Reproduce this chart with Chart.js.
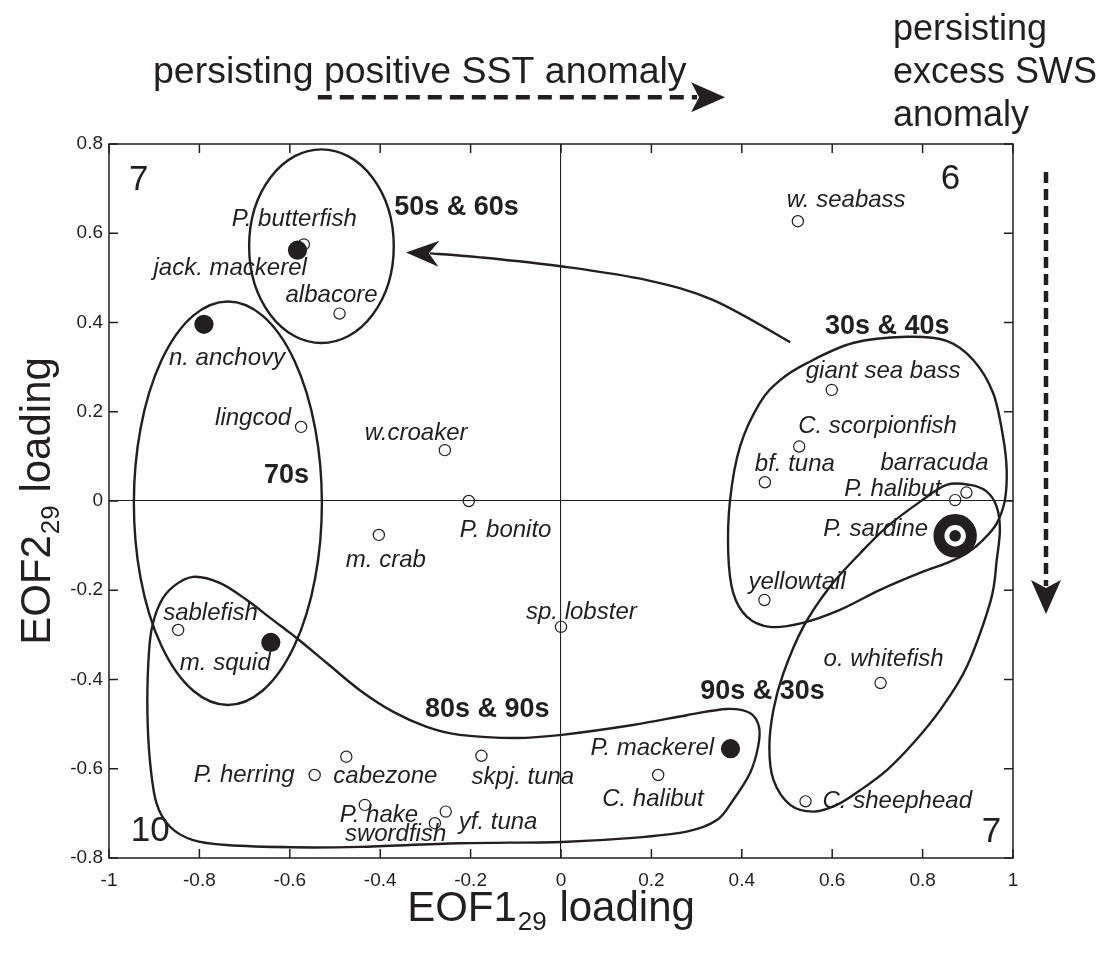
<!DOCTYPE html>
<html>
<head>
<meta charset="utf-8">
<script src="https://cdn.jsdelivr.net/npm/chart.js@4.4.1/dist/chart.umd.min.js"></script>
<style>
  html, body { margin: 0; background: #fff; }
  canvas { display: block; }
</style>
</head>
<body>
<canvas id="chart" width="1104" height="958"></canvas>
<script>
/* EOF1/EOF2 loadings of fish catch series, with decade groupings */

const INK = "#231f20";
const FONT = "'Liberation Sans', Arial, Helvetica, sans-serif";

// ---------- data ----------
const SPECIES = [
  "w. seabass", "giant sea bass", "C. scorpionfish", "bf. tuna", "P. halibut",
  "barracuda", "P. sardine", "yellowtail", "sp. lobster", "o. whitefish",
  "P. mackerel", "C. halibut", "C. sheephead", "P. butterfish", "jack. mackerel",
  "albacore", "n. anchovy", "lingcod", "w.croaker", "P. bonito",
  "m. crab", "sablefish", "m. squid", "cabezone", "P. herring",
  "skpj. tuna", "P. hake", "yf. tuna", "swordfish",
];
const EOF1 = [
  0.524, 0.599, 0.527, 0.451, 0.872,
  0.897, 0.872, 0.450, 0.000, 0.707,
  0.375, 0.215, 0.541, -0.569, -0.583,
  -0.490, -0.790, -0.575, -0.257, -0.204,
  -0.403, -0.847, -0.642, -0.475, -0.545,
  -0.176, -0.434, -0.255, -0.279,
];
const EOF2 = [
  0.627, 0.249, 0.122, 0.042, 0.002,
  0.019, -0.078, -0.222, -0.282, -0.408,
  -0.555, -0.614, -0.673, 0.575, 0.562,
  0.420, 0.396, 0.166, 0.114, 0.000,
  -0.076, -0.289, -0.317, -0.573, -0.614,
  -0.571, -0.681, -0.696, -0.722,
];
const FILLED = ["jack. mackerel", "n. anchovy", "m. squid", "P. mackerel"];
const RINGED = ["P. sardine"];

const X_TICKS = [-1, -0.8, -0.6, -0.4, -0.2, 0, 0.2, 0.4, 0.6, 0.8, 1];
const Y_TICKS = [-0.8, -0.6, -0.4, -0.2, 0, 0.2, 0.4, 0.6, 0.8];

// decade groups: ellipses [cx, cy, rx, ry] and traced outlines [[x, y], ...]
const ELLIPSE_5060 = [-0.530, 0.571, 0.160, 0.217];
const ELLIPSE_70 = [-0.737, -0.005, 0.208, 0.452];
const OUTLINE_3040 = [
  [0.544, 0.309], [0.646, 0.354], [0.765, 0.368], [0.853, 0.359], [0.912, 0.316],
  [0.956, 0.242], [0.978, 0.144], [0.986, 0.070], [0.982, 0.002], [0.964, -0.050],
  [0.934, -0.087], [0.898, -0.117], [0.853, -0.139], [0.794, -0.161], [0.706, -0.199],
  [0.617, -0.244], [0.535, -0.273], [0.462, -0.282], [0.411, -0.259], [0.381, -0.206],
  [0.370, -0.117], [0.374, 0.002], [0.396, 0.122], [0.440, 0.220], [0.485, 0.271],
];
const OUTLINE_9030 = [
  [0.853, 0.036], [0.905, 0.036], [0.942, 0.021], [0.964, -0.013], [0.971, -0.065],
  [0.964, -0.132], [0.951, -0.222], [0.898, -0.371], [0.839, -0.468], [0.779, -0.543],
  [0.721, -0.603], [0.662, -0.648], [0.610, -0.681], [0.558, -0.696], [0.507, -0.681],
  [0.470, -0.625], [0.461, -0.551], [0.470, -0.468], [0.492, -0.386], [0.536, -0.282],
  [0.595, -0.192], [0.662, -0.117], [0.721, -0.058], [0.794, -0.002],
];
const OUTLINE_8090 = [
  [-0.814, -0.170], [-0.754, -0.184], [-0.695, -0.222], [-0.637, -0.267], [-0.585, -0.307],
  [-0.518, -0.363], [-0.445, -0.424], [-0.372, -0.472], [-0.297, -0.506], [-0.224, -0.524],
  [-0.098, -0.531], [0.002, -0.524], [0.159, -0.502], [0.278, -0.480], [0.367, -0.466],
  [0.418, -0.475], [0.438, -0.506], [0.436, -0.551], [0.418, -0.610], [0.381, -0.670],
  [0.345, -0.715], [0.278, -0.741], [0.159, -0.755], [0.002, -0.764], [-0.224, -0.767],
  [-0.445, -0.775], [-0.593, -0.776], [-0.740, -0.771], [-0.814, -0.760], [-0.865, -0.730],
  [-0.895, -0.677], [-0.909, -0.587], [-0.915, -0.475], [-0.913, -0.363], [-0.906, -0.289],
  [-0.887, -0.229], [-0.858, -0.192],
];
// shift from the 30s & 40s group back to the 50s & 60s group
const SHIFT_ARROW = [
  [0.507, 0.356], [0.337, 0.450], [0.190, 0.495], [0.007, 0.525], [-0.179, 0.546],
  [-0.290, 0.555], [-0.343, 0.557],
];
// direction arrows drawn outside the axes: [x0, y0, x1, y1]
const SST_ARROW = [-0.538, 0.905, 0.363, 0.905];
const SWS_ARROW = [1.073, 0.737, 1.073, -0.253];

const GROUP_LABELS = ["50s & 60s", "30s & 40s", "70s", "80s & 90s", "90s & 30s"];
const GROUP_X = [-0.369, 0.584, -0.657, -0.301, 0.308];
const GROUP_Y = [0.641, 0.374, 0.040, -0.485, -0.444];

const CORNER_LABELS = ["7", "6", "10", "7"];
const CORNER_X = [-0.956, 0.840, -0.952, 0.931];
const CORNER_Y = [0.697, 0.699, -0.761, -0.764];

// ---------- layout: label offsets from each point, px [dx, dy] ----------
const LABEL_OFFSET = {
  "w. seabass": [-11, -14], "giant sea bass": [-26, -12], "C. scorpionfish": [-1, -14],
  "bf. tuna": [-10, -11], "P. halibut": [-111, -4], "barracuda": [-86, -23],
  "P. sardine": [-132, 0], "yellowtail": [-16, -11], "sp. lobster": [-35, -8],
  "o. whitefish": [-57, -17], "P. mackerel": [-140, 6], "C. halibut": [-56, 31],
  "C. sheephead": [17, 7], "P. butterfish": [-72, -18], "jack. mackerel": [-144, 25],
  "albacore": [-54, -12], "n. anchovy": [-35, 41], "lingcod": [-86, -2],
  "w.croaker": [-80, -10], "P. bonito": [-9, 36], "m. crab": [-33, 32],
  "sablefish": [-15, -10], "m. squid": [-91, 28], "cabezone": [-13, 26],
  "P. herring": [-121, 7], "skpj. tuna": [-10, 28], "P. hake": [-25, 17],
  "yf. tuna": [13, 17], "swordfish": [-90, 18],
};

function pointsOf(names) {
  return SPECIES.map((s, i) => ({ s, x: EOF1[i], y: EOF2[i] }))
    .filter((p) => names(p.s));
}
const openPts = pointsOf((s) => !FILLED.includes(s) && !RINGED.includes(s));
const filledPts = pointsOf((s) => FILLED.includes(s));
const ringPts = pointsOf((s) => RINGED.includes(s));

// ---------- drawing helpers ----------
function toPx(chart, p) {
  return [chart.scales.x.getPixelForValue(p[0]), chart.scales.y.getPixelForValue(p[1])];
}

function spline(ctx, pts, closed) {
  const n = pts.length;
  const at = (i) => closed ? pts[(i + n) % n] : pts[Math.max(0, Math.min(n - 1, i))];
  ctx.moveTo(pts[0][0], pts[0][1]);
  const last = closed ? n : n - 1;
  for (let i = 0; i < last; i++) {
    const p0 = at(i - 1), p1 = at(i), p2 = at(i + 1), p3 = at(i + 2);
    ctx.bezierCurveTo(
      p1[0] + (p2[0] - p0[0]) / 6, p1[1] + (p2[1] - p0[1]) / 6,
      p2[0] - (p3[0] - p1[0]) / 6, p2[1] - (p3[1] - p1[1]) / 6,
      p2[0], p2[1]);
  }
  if (closed) ctx.closePath();
}

function arrowHead(ctx, tx, ty, ang, len, half, notch) {
  const c = Math.cos(ang), s = Math.sin(ang);
  const pt = (a, b) => [tx - a * c + b * s, ty - a * s - b * c];
  const b1 = pt(len, half), b2 = pt(len, -half), nb = pt(notch, 0);
  ctx.beginPath();
  ctx.moveTo(tx, ty);
  ctx.lineTo(b1[0], b1[1]);
  ctx.lineTo(nb[0], nb[1]);
  ctx.lineTo(b2[0], b2[1]);
  ctx.closePath();
  ctx.fill();
}

function dashedArrow(ctx, chart, a, dash, headLen) {
  const [x0, y0] = toPx(chart, [a[0], a[1]]);
  const [x1, y1] = toPx(chart, [a[2], a[3]]);
  const ang = Math.atan2(y1 - y0, x1 - x0);
  const ex = x1 - Math.cos(ang) * (headLen - 6), ey = y1 - Math.sin(ang) * (headLen - 6);
  ctx.save();
  ctx.lineWidth = 4.5;
  ctx.setLineDash(dash);
  ctx.beginPath();
  ctx.moveTo(x0, y0);
  ctx.lineTo(ex, ey);
  ctx.stroke();
  ctx.restore();
  arrowHead(ctx, x1, y1, ang, headLen, 15, headLen - 8);
}

const groupsPlugin = {
  id: "groups",
  beforeDatasetsDraw(chart) {
    const ctx = chart.ctx;
    const sx = chart.scales.x, sy = chart.scales.y;
    ctx.save();
    ctx.strokeStyle = INK;
    ctx.lineWidth = 2.4;
    [ELLIPSE_5060, ELLIPSE_70].forEach((e) => {
      const cx = sx.getPixelForValue(e[0]), cy = sy.getPixelForValue(e[1]);
      const rx = Math.abs(sx.getPixelForValue(e[0] + e[2]) - cx);
      const ry = Math.abs(sy.getPixelForValue(e[1] + e[3]) - cy);
      ctx.beginPath();
      ctx.ellipse(cx, cy, rx, ry, 0, 0, Math.PI * 2);
      ctx.stroke();
    });
    [OUTLINE_3040, OUTLINE_9030, OUTLINE_8090].forEach((o) => {
      ctx.beginPath();
      spline(ctx, o.map((p) => toPx(chart, p)), true);
      ctx.stroke();
    });
    // curved shift arrow
    const arr = SHIFT_ARROW.map((p) => toPx(chart, p));
    const shaft = arr.slice(0, -1);
    ctx.beginPath();
    spline(ctx, shaft, false);
    ctx.stroke();
    const tip = arr[arr.length - 1], back = shaft[shaft.length - 1];
    ctx.fillStyle = INK;
    arrowHead(ctx, tip[0], tip[1], Math.atan2(tip[1] - back[1], tip[0] - back[0]), 33, 13, 23);
    ctx.restore();
  },
  afterDatasetsDraw(chart) {
    const ctx = chart.ctx;
    ctx.save();
    ctx.fillStyle = INK;
    ctx.textBaseline = "alphabetic";
    ctx.textAlign = "left";
    ctx.font = `italic 24px ${FONT}`;
    SPECIES.forEach((s, i) => {
      const [x, y] = toPx(chart, [EOF1[i], EOF2[i]]);
      const off = LABEL_OFFSET[s] || [8, -8];
      ctx.fillText(s, x + off[0], y + off[1]);
    });
    ctx.font = `bold 27px ${FONT}`;
    GROUP_LABELS.forEach((t, i) => {
      const [x, y] = toPx(chart, [GROUP_X[i], GROUP_Y[i]]);
      ctx.fillText(t, x, y);
    });
    ctx.font = `35px ${FONT}`;
    CORNER_LABELS.forEach((t, i) => {
      const [x, y] = toPx(chart, [CORNER_X[i], CORNER_Y[i]]);
      ctx.fillText(t, x, y);
    });
    ctx.restore();
  },
  afterDraw(chart) {
    const ctx = chart.ctx;
    const a = chart.chartArea;
    const sx = chart.scales.x, sy = chart.scales.y;
    ctx.save();
    // frame + inward ticks on all four sides
    ctx.strokeStyle = INK;
    ctx.lineWidth = 1.5;
    ctx.strokeRect(a.left, a.top, a.right - a.left, a.bottom - a.top);
    ctx.beginPath();
    const tl = 9;
    X_TICKS.forEach((v) => {
      const x = sx.getPixelForValue(v);
      ctx.moveTo(x, a.bottom); ctx.lineTo(x, a.bottom - tl);
      ctx.moveTo(x, a.top); ctx.lineTo(x, a.top + tl);
    });
    Y_TICKS.forEach((v) => {
      const y = sy.getPixelForValue(v);
      ctx.moveTo(a.left, y); ctx.lineTo(a.left + tl, y);
      ctx.moveTo(a.right, y); ctx.lineTo(a.right - tl, y);
    });
    ctx.stroke();

    // axis titles with subscripts
    ctx.fillStyle = INK;
    const drawTitle = (main, sub, rest, size) => {
      const subSize = Math.round(size * 0.62);
      ctx.font = `${size}px ${FONT}`;
      const w1 = ctx.measureText(main).width;
      const w3 = ctx.measureText(rest).width;
      ctx.font = `${subSize}px ${FONT}`;
      const w2 = ctx.measureText(sub).width;
      const x = -(w1 + w2 + w3 + 2) / 2;
      ctx.textAlign = "left";
      ctx.textBaseline = "alphabetic";
      ctx.font = `${size}px ${FONT}`;
      ctx.fillText(main, x, 0);
      ctx.font = `${subSize}px ${FONT}`;
      ctx.fillText(sub, x + w1 + 1, size * 0.22);
      ctx.font = `${size}px ${FONT}`;
      ctx.fillText(rest, x + w1 + w2 + 2, 0);
    };
    const midX = (a.left + a.right) / 2, midY = (a.top + a.bottom) / 2;
    ctx.save();
    ctx.translate(midX - 10, 921);
    drawTitle("EOF1", "29", " loading", 42);
    ctx.restore();
    ctx.save();
    ctx.translate(50, midY);
    ctx.rotate(-Math.PI / 2);
    drawTitle("EOF2", "29", " loading", 42);
    ctx.restore();

    // anomaly annotations
    ctx.textAlign = "left";
    ctx.font = `37.5px ${FONT}`;
    ctx.fillText("persisting positive SST anomaly", 153, 83);
    ctx.font = `36px ${FONT}`;
    ctx.fillText("persisting", 893, 40);
    ctx.fillText("excess SWS", 893, 83);
    ctx.fillText("anomaly", 893, 126);
    ctx.strokeStyle = INK;
    dashedArrow(ctx, chart, SST_ARROW, [14, 8], 34);
    dashedArrow(ctx, chart, SWS_ARROW, [11, 6], 34);
    ctx.restore();
  },
};

const tickFmt = (v) => String(Math.round(v * 10) / 10);
const zeroGrid = (c) => (Math.abs(c.tick.value) < 1e-9 ? INK : "rgba(0,0,0,0)");

new Chart(document.getElementById("chart"), {
  type: "scatter",
  data: {
    datasets: [
      {
        label: "P. sardine (centre)", order: 1,
        data: ringPts, pointRadius: 5.8, backgroundColor: INK, borderWidth: 0,
      },
      {
        label: "P. sardine", order: 2,
        data: ringPts, pointRadius: 16.2, backgroundColor: "#fff",
        borderColor: INK, borderWidth: 11,
      },
      {
        label: "dominant", order: 3,
        data: filledPts, pointRadius: 9.6, backgroundColor: INK, borderWidth: 0,
      },
      {
        label: "other", order: 4,
        data: openPts, pointRadius: 5.6, backgroundColor: "rgba(255,255,255,0)",
        borderColor: INK, borderWidth: 1.2,
      },
    ],
  },
  options: {
    responsive: false,
    animation: false,
    devicePixelRatio: 1,
    events: [],
    layout: { padding: { top: 144, right: 91, bottom: 0, left: 0 } },
    plugins: { legend: { display: false }, tooltip: { enabled: false } },
    scales: {
      x: {
        type: "linear", min: -1, max: 1,
        afterBuildTicks: (s) => { s.ticks = X_TICKS.map((v) => ({ value: v })); },
        afterFit: (s) => { s.height = 100; },
        ticks: { callback: tickFmt, color: INK, padding: 11, autoSkip: false, maxRotation: 0,
                 font: { family: FONT, size: 19 } },
        grid: { color: zeroGrid, lineWidth: 1.1, drawTicks: false },
        border: { display: false },
      },
      y: {
        type: "linear", min: -0.8, max: 0.8,
        afterBuildTicks: (s) => { s.ticks = Y_TICKS.map((v) => ({ value: v })); },
        afterFit: (s) => { s.width = 109; },
        ticks: { callback: tickFmt, color: INK, padding: 6, autoSkip: false,
                 font: { family: FONT, size: 19 } },
        grid: { color: zeroGrid, lineWidth: 1.1, drawTicks: false },
        border: { display: false },
      },
    },
  },
  plugins: [groupsPlugin],
});
</script>
</body>
</html>
